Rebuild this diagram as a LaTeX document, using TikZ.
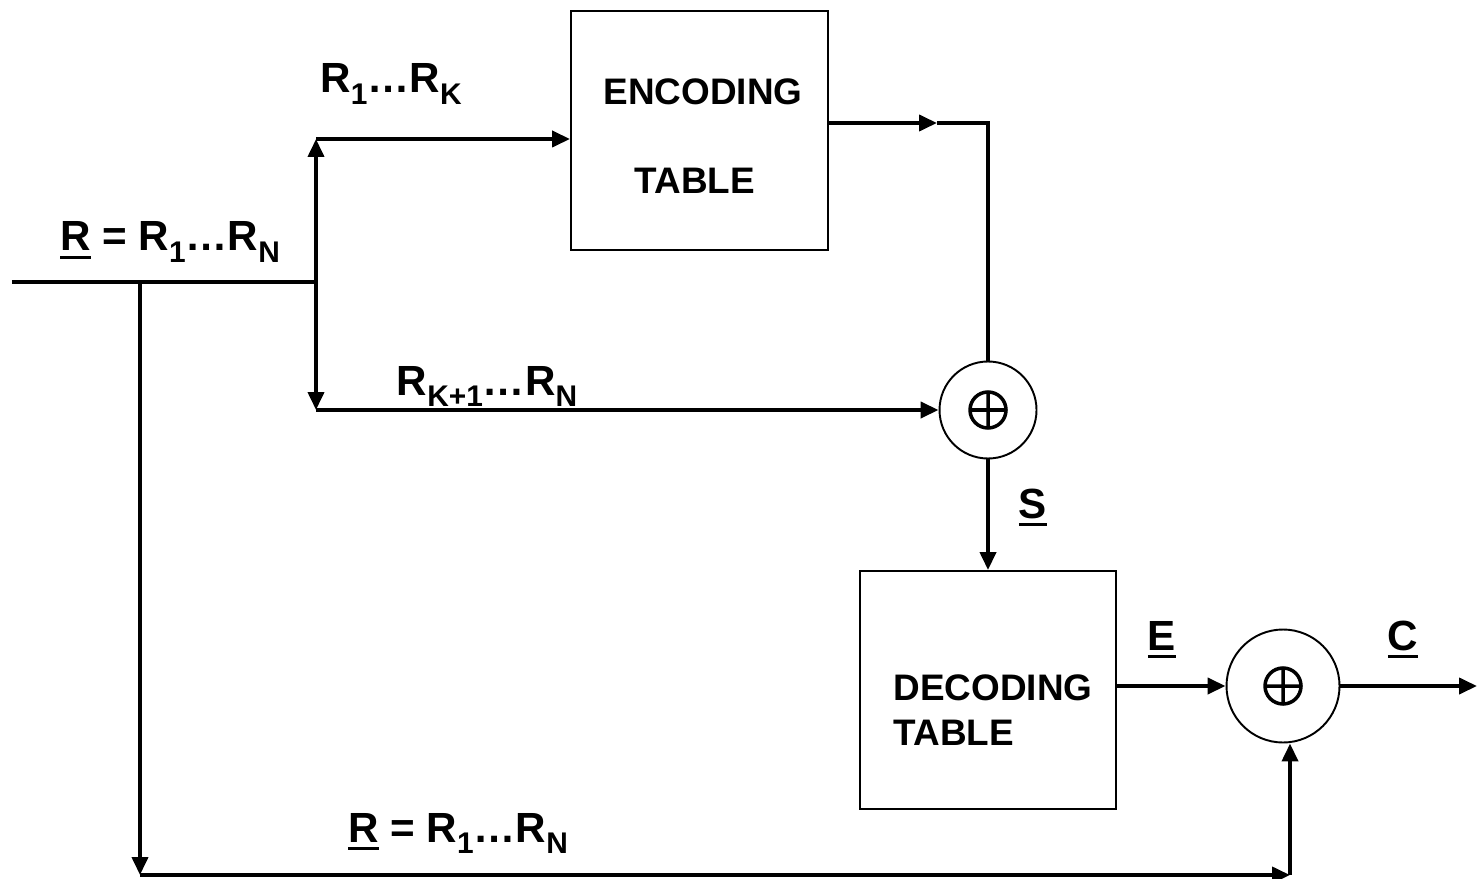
\documentclass[tikz,border=0pt]{standalone}
\usepackage{fontspec}
\setmainfont{Liberation Sans}
\usetikzlibrary{arrows.meta}
\newcommand{\sbs}[1]{\raisebox{-3.2pt}{\fontsize{8.5}{10}\selectfont #1}}
\newcommand{\vecsym}[1]{\setbox0\hbox{#1}\rlap{\rule[-2.4pt]{\wd0}{1pt}}#1}
\begin{document}
\begin{tikzpicture}[
  font=\fontsize{10.5}{12.6}\selectfont\bfseries,
  >={Triangle[length=1.8mm,width=1.6mm]},
  tbl/.style={rectangle, draw, line width=0.55pt, inner sep=0pt},
  xorc/.style={circle, draw, line width=0.55pt, inner sep=0pt,
               path picture={\draw[line width=1pt]
                 (path picture bounding box.center) circle (0.18)
                 (path picture bounding box.center) ++(-0.18,0) -- ++(0.36,0)
                 (path picture bounding box.center) ++(0,-0.18) -- ++(0,0.36);}},
  sig/.style={line width=1.1pt},
  lbl/.style={anchor=base, inner sep=0pt},
  sigl/.style={lbl, font=\fontsize{12}{14}\selectfont\bfseries},
]
\useasboundingbox (0,0) rectangle (14.79,-8.78);

\node[tbl, minimum width=2.57cm, minimum height=2.39cm] (enc) at (6.995,-1.305) {};
\node[tbl, minimum width=2.56cm, minimum height=2.38cm] (dec) at (9.88,-6.90) {};
\node[xorc, minimum size=0.97cm] (xa) at (9.88,-4.10) {};
\node[xorc, minimum size=1.13cm] (xb) at (12.83,-6.86) {};

\node[lbl] (enc1) at (7.03,-1.05) {ENCODING};
\node[lbl] (enc2) at (6.95,-1.94) {TABLE};
\node[lbl, anchor=base west] (dec1) at (8.93,-7.00) {DECODING};
\node[lbl, anchor=base west] (dec2) at (8.93,-7.45) {TABLE};

\coordinate (in)   at (0.12,-2.82);
\coordinate (fork) at (3.16,-2.82);
\coordinate (tap)  at (1.40,-2.82);
\coordinate (up)   at (3.16,-1.39);
\coordinate (dn)   at (3.16,-4.10);
\coordinate (mid)  at (9.37,-1.23);
\coordinate (turn) at (9.88,-1.23);
\coordinate (out)  at (14.77,-6.86);
\coordinate (lowL) at (1.40,-8.75);
\coordinate (lowR) at (12.90,-8.75);

% input and split
\draw[sig] (in) -- (fork);
\draw[sig,->] (fork) -- (up);
\draw[sig,->] (up) -- (up -| enc.west);
\draw[sig,->] (fork) -- (dn);
\draw[sig,->] (dn) -- (xa.west);

% encoder to first xor
\draw[sig,->] (enc.east |- turn) -- (mid);
\draw[sig] (mid) -- (turn) -- (xa.north);
\draw[sig,->] (xa.south) -- (dec.north);

% decoder to output
\draw[sig,->] (dec.east |- xb.west) -- (xb.west);
\draw[sig,->] (xb.east) -- (out);

% bypass
\draw[sig,->] (tap) -- (lowL);
\draw[sig,->] (lowL) -- (lowR);
\draw[sig,->] (lowR) -- (lowR |- xb.south);

\node[sigl] (rin)  at (1.70,-2.51) {\vecsym{R} = R\sbs{1}\ldots R\sbs{N}};
\node[sigl] (rk)   at (3.91,-0.93) {R\sbs{1}\ldots R\sbs{K}};
\node[sigl] (rkn)  at (4.87,-3.95) {R\sbs{K+1}\ldots R\sbs{N}};
\node[sigl] (rlow) at (4.58,-8.42) {\vecsym{R} = R\sbs{1}\ldots R\sbs{N}};
\node[sigl] (s) at (10.33,-5.18) {\vecsym{S}};
\node[sigl] (e) at (11.62,-6.50) {\vecsym{E}};
\node[sigl] (c) at (14.03,-6.50) {\vecsym{C}};
\end{tikzpicture}
\end{document}
